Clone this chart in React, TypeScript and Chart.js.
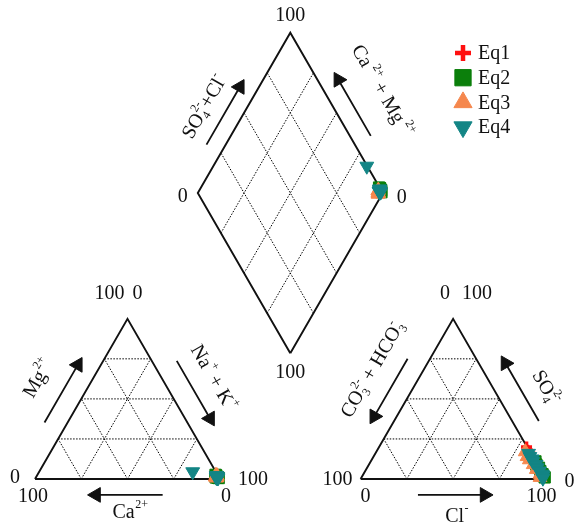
import React, { useEffect, useRef } from 'react';
import { Chart, registerables } from 'chart.js';
import { drawPoint } from 'chart.js/helpers';

Chart.register(...registerables);

// ---------------- data (meq %) ----------------
const seriesNames = ['Eq1', 'Eq2', 'Eq3', 'Eq4'];

const eq1Ca = [0.8, 1.2, 0.5, 1.5, 1.0, 0.7];
const eq1Mg = [1.0, 0.6, 1.4, 0.9, 2.0, 0.4];
const eq1HCO3 = [0.3, 0.8, 0.5, 1.0, 0.6, 0.4];
const eq1SO4 = [20, 18, 16, 13, 10, 6];

const eq2Ca = [0.6, 1.0, 1.4, 0.9, 0.4, 1.8, 1.1];
const eq2Mg = [1.2, 0.8, 1.6, 2.2, 0.6, 1.0, 2.6];
const eq2HCO3 = [0.0, 0.2, 0.4, 0.1, 0.5, 0.0, 0.3];
const eq2SO4 = [1, 3, 5, 7, 9, 11, 2];

const eq3Ca = [1.2, 0.8, 1.6, 0.5, 1.0, 2.0, 0.9];
const eq3Mg = [0.9, 1.5, 0.6, 2.0, 2.4, 1.2, 1.8];
const eq3HCO3 = [2.5, 3.0, 2.8, 2.2, 2.0, 1.5, 2.5];
const eq3SO4 = [17, 14, 12, 9, 6, 3, 1];

const eq4Ca = [12.5, 0.7, 1.0, 1.3, 0.6, 0.9, 1.5, 0.8, 1.1, 0.5];
const eq4Mg = [4.5, 1.0, 1.4, 0.8, 1.8, 2.2, 1.1, 0.6, 1.6, 1.3];
const eq4HCO3 = [0.3, 1.2, 1.5, 1.0, 1.4, 0.6, 1.0, 0.8, 0.4, 1.2];
const eq4SO4 = [3, 16, 14, 12.5, 11, 9, 7, 5, 2, 0.5];

const gridLevels = [25, 50, 75];
const tickMin = '0';
const tickMax = '100';

// ---------------- styles ----------------
const colors = ['#ff1010', '#0b7f0b', '#f5874d', '#138585'];
const FONT = '"Liberation Serif", "Times New Roman", serif';
const FS = 20;

// ---------------- geometry (data units, triangle side = 100) ----------------
const GAP = 76;
const D_BASE = 68;
const HT = Math.sqrt(3) / 2;
const PX = 1.85; // pixels per unit
const ORIGIN = { x: 35, y: 479 };
const W = 574, HGT = 527;

type P = { x: number; y: number };
const cationXY = (ca: number, mg: number): P => {
  const nak = 100 - ca - mg;
  return { x: nak + mg / 2, y: mg * HT };
};
const anionXY = (hco3: number, so4: number): P => {
  const cl = 100 - hco3 - so4;
  return { x: 100 + GAP + cl + so4 / 2, y: so4 * HT };
};
const diamondXY = (caMg: number, so4Cl: number): P => ({
  x: 100 + GAP / 2 + 0.5 * so4Cl - 0.5 * caMg,
  y: D_BASE + HT * (so4Cl + caMg),
});

const LT = { a: cationXY(100, 0), b: cationXY(0, 0), c: cationXY(0, 100) };
const RT = { a: anionXY(100, 0), b: anionXY(0, 0), c: anionXY(0, 100) };
const DM = { bottom: diamondXY(0, 0), right: diamondXY(0, 100), top: diamondXY(100, 100), left: diamondXY(100, 0) };

const GAPPT: P = { x: NaN, y: NaN };

function onEdge(p0: P, p1: P, t: number, off: number): P {
  const dx = p1.x - p0.x, dy = p1.y - p0.y;
  const len = Math.hypot(dx, dy);
  return { x: p0.x + dx * t + (-dy / len) * off, y: p0.y + dy * t + (dx / len) * off };
}

function buildFrame(): P[] {
  return [LT.a, LT.c, LT.b, LT.a, GAPPT, RT.a, RT.c, RT.b, RT.a, GAPPT,
    DM.bottom, DM.right, DM.top, DM.left, DM.bottom];
}

function buildGrid(): P[] {
  const out: P[] = [];
  const seg = (a: P, b: P) => { out.push(a, b, GAPPT); };
  for (const p of gridLevels) {
    seg(cationXY(100 - p, p), cationXY(0, p));
    seg(cationXY(p, 0), cationXY(p, 100 - p));
    seg(cationXY(100 - p, 0), cationXY(0, 100 - p));
    seg(anionXY(100 - p, p), anionXY(0, p));
    seg(anionXY(p, 0), anionXY(p, 100 - p));
    seg(anionXY(100 - p, 0), anionXY(0, 100 - p));
    seg(diamondXY(0, p), diamondXY(100, p));
    seg(diamondXY(p, 0), diamondXY(p, 100));
  }
  return out;
}

// arrows: edge, t start, t end, offset
const arrowSpecs: [P, P, number, number, number][] = [
  [LT.a, LT.c, 0.29, 0.65, 10.8],
  [LT.c, LT.b, 0.33, 0.69, 11.7],
  [LT.b, LT.a, 0.31, 0.67, 8.6],
  [RT.a, RT.c, 0.69, 0.33, 10.5],
  [RT.c, RT.b, 0.71, 0.35, 12.5],
  [RT.b, RT.a, 0.69, 0.33, 8.6],
  [DM.left, DM.top, 0.25, 0.61, 9],
  [DM.top, DM.right, 0.70, 0.35, 9.8],
];

function buildArrows() {
  const shafts: P[] = [];
  const heads: P[] = [];
  const rots: number[] = [];
  for (const [p0, p1, t0, t1, off] of arrowSpecs) {
    const s = onEdge(p0, p1, t0, off);
    const e = onEdge(p0, p1, t1, off);
    shafts.push(s, e, GAPPT);
    heads.push(e);
    rots.push((Math.atan2(e.x - s.x, e.y - s.y) * 180) / Math.PI);
  }
  return { shafts, heads, rots };
}

function seriesPoints(ca: number[], mg: number[], hco3: number[], so4: number[]): P[] {
  const pts: P[] = [];
  for (let i = 0; i < ca.length; i++) pts.push(cationXY(ca[i], mg[i]));
  for (let i = 0; i < ca.length; i++) pts.push(anionXY(hco3[i], so4[i]));
  for (let i = 0; i < ca.length; i++) {
    const cl = 100 - hco3[i] - so4[i];
    pts.push(diamondXY(ca[i] + mg[i], so4[i] + cl));
  }
  return pts;
}

const markerStyles = [
  { pointStyle: 'cross', radius: 5.5, rotation: 0, borderWidth: 3.5, legendRadius: 8, legendBorder: 4.5 },
  { pointStyle: 'rect', radius: 8, rotation: 0, borderWidth: 1, legendRadius: 11.5, legendBorder: 1 },
  { pointStyle: 'triangle', radius: 8, rotation: 0, borderWidth: 1, legendRadius: 10.5, legendBorder: 1 },
  { pointStyle: 'triangle', radius: 8, rotation: 180, borderWidth: 1, legendRadius: 10.5, legendBorder: 1 },
];

// ---------------- rich text ----------------
type Part = { t: string; sup?: string; sub?: string };
function drawRich(ctx: CanvasRenderingContext2D, parts: Part[], x: number, y: number, angle: number, size = FS) {
  const main = `${size}px ${FONT}`;
  const small = `${Math.round(size * 0.6)}px ${FONT}`;
  let w = 0;
  const ws: [number, number][] = [];
  for (const p of parts) {
    ctx.font = main;
    const a = ctx.measureText(p.t).width;
    ctx.font = small;
    const b = Math.max(p.sup ? ctx.measureText(p.sup).width : 0, p.sub ? ctx.measureText(p.sub).width : 0);
    ws.push([a, b]);
    w += a + b;
  }
  ctx.save();
  ctx.translate(x, y);
  ctx.rotate((angle * Math.PI) / 180);
  ctx.fillStyle = '#111';
  ctx.textAlign = 'left';
  ctx.textBaseline = 'middle';
  let cx = -w / 2;
  parts.forEach((p, i) => {
    ctx.font = main;
    ctx.fillText(p.t, cx, 0);
    cx += ws[i][0];
    ctx.font = small;
    if (p.sup) ctx.fillText(p.sup, cx + 0.5, -size * 0.38);
    if (p.sub) ctx.fillText(p.sub, cx + 0.5, size * 0.3);
    cx += ws[i][1];
  });
  ctx.restore();
}

const edgeLabels: [Part[], P, P, number, number, number][] = [
  [[{ t: 'Mg', sup: '2+' }], LT.a, LT.c, 0.478, 25.4, -60],
  [[{ t: 'Na', sup: '+' }, { t: ' + K', sup: '+' }], LT.c, LT.b, 0.508, 24, 60],
  [[{ t: 'Ca', sup: '2+' }], LT.b, LT.a, 0.487, 18, 0],
  [[{ t: 'CO', sub: '3', sup: '2-' }, { t: ' + HCO', sub: '3', sup: '-' }], RT.a, RT.c, 0.544, 23.7, -60],
  [[{ t: 'SO', sub: '4', sup: '2-' }], RT.c, RT.b, 0.57, 24.5, 60],
  [[{ t: 'Cl', sup: '-' }], RT.b, RT.a, 0.481, 20.5, 0],
  [[{ t: 'SO', sub: '4', sup: '2-' }, { t: '+Cl', sup: '-' }], DM.left, DM.top, 0.42, 19.9, -60],
  [[{ t: 'Ca', sup: ' 2+' }, { t: ' + Mg', sup: ' 2+' }], DM.top, DM.right, 0.52, 26.9, 60],
];

// tick labels: vertex, dx px, dy px, text, align
const tickLabels: [P, number, number, string, CanvasTextAlign][] = [
  [LT.c, -3, -25, tickMax, 'right'],
  [LT.c, 5, -25, tickMin, 'left'],
  [LT.a, -15, -1, tickMin, 'right'],
  [LT.a, -2, 18, tickMax, 'center'],
  [LT.b, 18, 1, tickMax, 'left'],
  [LT.b, 6, 18, tickMin, 'center'],
  [RT.c, -3, -25, tickMin, 'right'],
  [RT.c, 9, -25, tickMax, 'left'],
  [RT.a, -8, 1, tickMax, 'right'],
  [RT.a, 5, 18, tickMin, 'center'],
  [RT.b, 19, 3, tickMin, 'left'],
  [RT.b, -4, 18, tickMax, 'center'],
  [DM.left, -10, 4, tickMin, 'right'],
  [DM.top, 0, -17, tickMax, 'center'],
  [DM.right, 14, 5, tickMin, 'left'],
  [DM.bottom, 0, 20, tickMax, 'center'],
];

const annotationPlugin = {
  id: 'piperText',
  afterDatasetsDraw(chart: any) {
    const ctx: CanvasRenderingContext2D = chart.ctx;
    const sx = chart.scales.x, sy = chart.scales.y;
    const px = (p: P) => ({ x: sx.getPixelForValue(p.x), y: sy.getPixelForValue(p.y) });
    for (const [parts, p0, p1, t, off, ang] of edgeLabels) {
      const q = px(onEdge(p0, p1, t, off));
      drawRich(ctx, parts, q.x, q.y, ang);
    }
    ctx.save();
    ctx.font = `${FS}px ${FONT}`;
    ctx.fillStyle = '#111';
    ctx.textBaseline = 'middle';
    for (const [v, dx, dy, txt, al] of tickLabels) {
      const q = px(v);
      ctx.textAlign = al;
      ctx.fillText(txt, q.x + dx, q.y + dy);
    }
    // legend
    const ca = chart.chartArea;
    const lx = ca.right - 111;
    const ly = ca.top + 53;
    seriesNames.forEach((name, i) => {
      const y = ly + i * 24.7;
      const m = markerStyles[i];
      ctx.fillStyle = colors[i];
      ctx.strokeStyle = colors[i];
      ctx.lineWidth = m.legendBorder;
      drawPoint(ctx, { pointStyle: m.pointStyle, radius: m.legendRadius, rotation: m.rotation, borderWidth: m.legendBorder } as any, lx, y);
      ctx.fillStyle = '#111';
      ctx.textAlign = 'left';
      ctx.font = `${FS}px ${FONT}`;
      ctx.fillText(name, lx + 15, y + 1);
    });
    ctx.restore();
  },
};

export default function App() {
  const ref = useRef<HTMLCanvasElement>(null);
  useEffect(() => {
    const arrows = buildArrows();
    const lineBase = {
      showLine: true, pointRadius: 0, fill: false, tension: 0, spanGaps: false, clip: false as any,
    };
    const seriesData = [
      seriesPoints(eq1Ca, eq1Mg, eq1HCO3, eq1SO4),
      seriesPoints(eq2Ca, eq2Mg, eq2HCO3, eq2SO4),
      seriesPoints(eq3Ca, eq3Mg, eq3HCO3, eq3SO4),
      seriesPoints(eq4Ca, eq4Mg, eq4HCO3, eq4SO4),
    ];
    const datasets: any[] = [
      { ...lineBase, label: 'grid', data: buildGrid(), borderColor: '#000', borderWidth: 1, borderDash: [1.5, 1.5], order: 12 },
      { ...lineBase, label: 'frame', data: buildFrame(), borderColor: '#111', borderWidth: 1.9, order: 11 },
      { ...lineBase, label: 'arrows', data: arrows.shafts, borderColor: '#111', borderWidth: 1.8, order: 10 },
      {
        label: 'heads', data: arrows.heads, showLine: false, pointStyle: 'triangle', pointRadius: 8.5,
        pointRotation: arrows.rots, pointBackgroundColor: '#111', pointBorderColor: '#111', pointBorderWidth: 1, order: 9, clip: false,
      },
    ];
    seriesNames.forEach((name, i) => {
      const m = markerStyles[i];
      datasets.push({
        label: name, data: seriesData[i], showLine: false,
        pointStyle: m.pointStyle, pointRadius: m.radius, pointRotation: m.rotation,
        pointBackgroundColor: colors[i], pointBorderColor: colors[i], pointBorderWidth: m.borderWidth,
        order: 5 - i, clip: false,
      });
    });
    const chart = new Chart(ref.current as HTMLCanvasElement, {
      type: 'scatter',
      data: { datasets },
      options: {
        animation: false,
        responsive: false,
        devicePixelRatio: 1,
        events: [],
        layout: { padding: 0, autoPadding: false } as any,
        scales: {
          x: { type: 'linear', display: false, min: -ORIGIN.x / PX, max: (W - ORIGIN.x) / PX },
          y: { type: 'linear', display: false, min: -(HGT - ORIGIN.y) / PX, max: ORIGIN.y / PX },
        },
        plugins: { legend: { display: false }, tooltip: { enabled: false } },
      },
      plugins: [annotationPlugin],
    });
    return () => chart.destroy();
  }, []);
  return (
    <div style={{ position: 'absolute', left: 0, top: 0, width: W, height: HGT, background: '#fff' }}>
      <canvas ref={ref} width={W} height={HGT} style={{ display: 'block' }} />
    </div>
  );
}
